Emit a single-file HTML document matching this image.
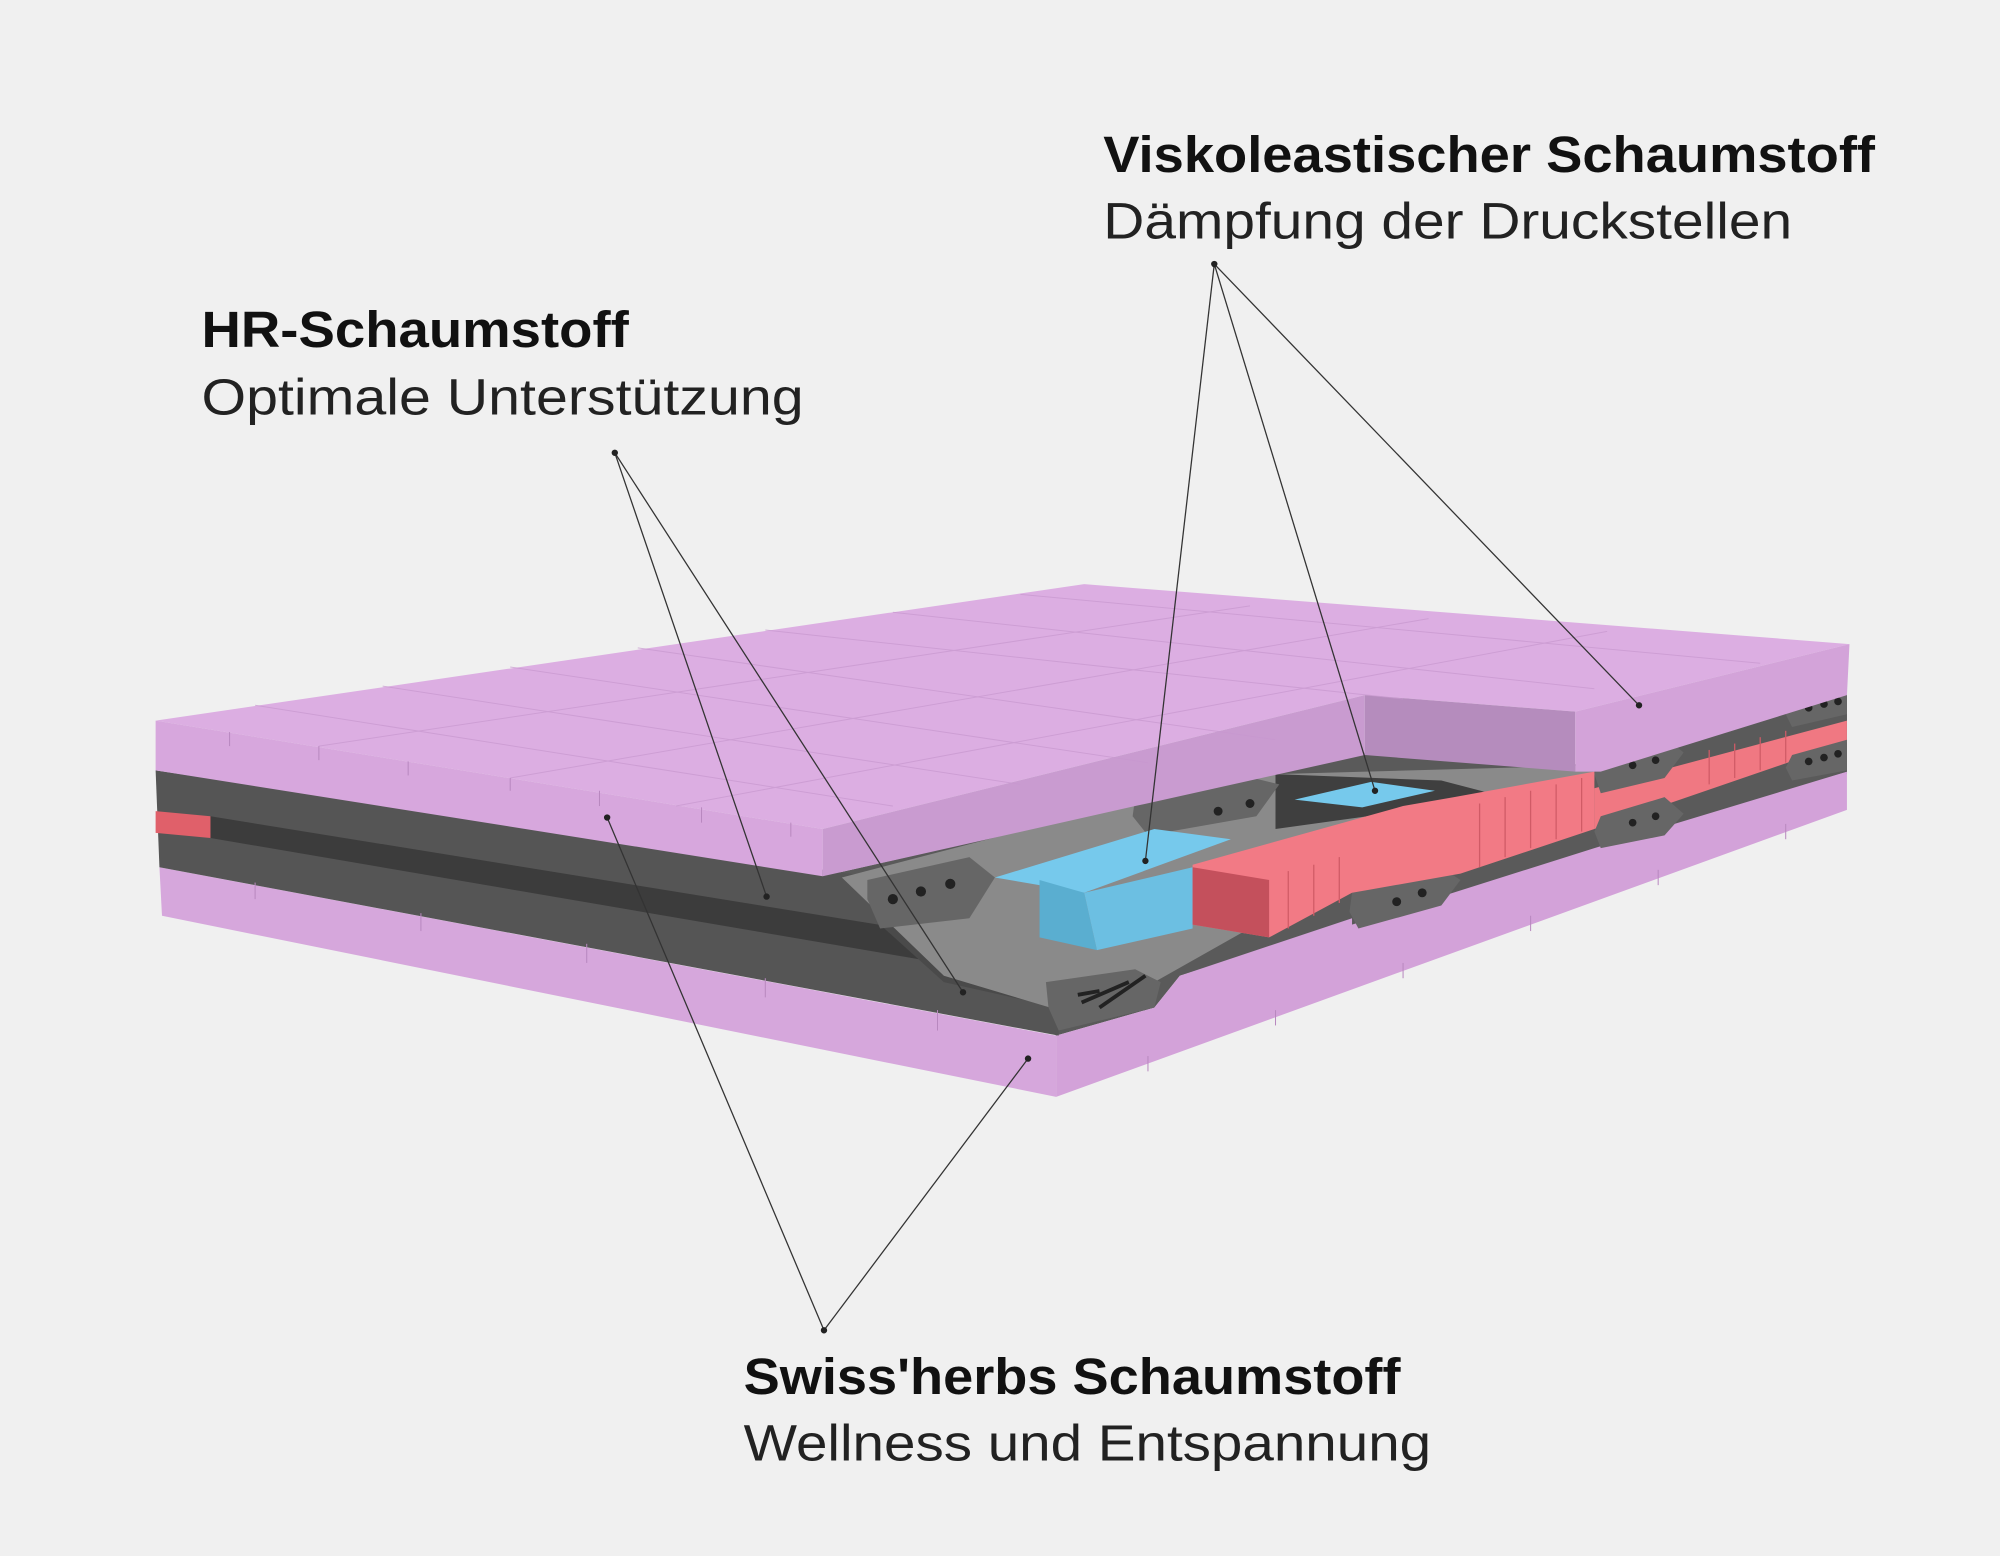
<!DOCTYPE html>
<html><head><meta charset="utf-8"><style>
html,body{margin:0;padding:0;background:#f0f0f0;}
svg{display:block;}
</style></head><body>
<svg width="2000" height="1556" viewBox="0 0 1568 1220" preserveAspectRatio="none" xmlns="http://www.w3.org/2000/svg">
<rect width="1568" height="1220" fill="#f0f0f0"/>
<!-- backing for middle layer -->
<polygon points="645,687 1070,590 1250,600 1448,540 1448,607 1250,662 1060,722 925,765 905,790 828,812 700,700" fill="#5a5a5a"/>
<!-- bottom purple slab -->
<polygon points="125,680 828,812 828,860 127,718" fill="#d6a7dc"/>
<polygon points="828,812 905,790 925,765 1060,720 1250,660 1448,605 1448,635 828,860" fill="#d3a2d9"/>
<!-- dark middle front -->
<polygon points="122,604 700,690 830,780 830,812 125,680" fill="#555555"/>
<polygon points="165,640 720,730 720,752 165,657" fill="#3c3c3c"/>
<polygon points="122,636 165,640 165,657 122,653" fill="#e0606a"/>
<polygon points="690,725 820,735 830,790 740,770" fill="#4a4a4a"/>
<!-- dark band right face -->
<polygon points="1060,690 1250,605 1448,540 1448,605 1250,665 1060,725" fill="#5a5a5a"/>
<polygon points="1250,618 1448,565 1448,582 1250,650" fill="#f07882"/>
<!-- gray exposed plane -->
<polygon points="660,688 890,628 1000,607 1250,600 1250,612 1100,660 905,770 830,792 740,765" fill="#8a8a8a"/>
<polygon points="1000,607 1130,612 1180,625 1000,650" fill="#3f3f3f"/>
<!-- hex blocks -->
<g fill="#666">
<polygon points="680,690 760,672 780,688 760,720 690,728 680,705"/>
<polygon points="890,625 970,607 1003,615 985,640 900,655 888,640"/>
<polygon points="1255,595 1305,578 1320,590 1305,610 1255,622 1250,607"/>
<polygon points="1405,550 1448,538 1448,560 1405,570 1400,560"/>
<polygon points="1060,700 1130,680 1145,690 1130,710 1065,728 1058,715"/>
<polygon points="1255,640 1305,625 1320,638 1305,655 1255,665 1250,652"/>
<polygon points="1405,592 1448,580 1448,604 1405,612 1400,602"/>
<polygon points="820,770 890,760 910,770 905,790 830,808 822,790"/>
</g>
<g fill="#222">
<circle cx="700" cy="705" r="4"/><circle cx="722" cy="699" r="4"/><circle cx="745" cy="693" r="4"/>
<circle cx="955" cy="636" r="3.5"/><circle cx="980" cy="630" r="3.5"/>
<circle cx="1280" cy="600" r="3"/><circle cx="1298" cy="596" r="3"/>
<circle cx="1418" cy="555" r="3"/><circle cx="1430" cy="552" r="3"/><circle cx="1441" cy="550" r="3"/>
<circle cx="1095" cy="707" r="3.5"/><circle cx="1115" cy="700" r="3.5"/>
<circle cx="1280" cy="645" r="3"/><circle cx="1298" cy="640" r="3"/>
<circle cx="1418" cy="597" r="3"/><circle cx="1430" cy="594" r="3"/><circle cx="1441" cy="591" r="3"/>
</g>
<g stroke="#222" stroke-width="3"><line x1="845" y1="780" x2="862" y2="777"/><line x1="848" y1="786" x2="885" y2="770"/><line x1="862" y1="790" x2="898" y2="765"/></g>
<!-- blue block -->
<polygon points="780,688 905,650 965,658 850,700" fill="#76c9ec"/>
<polygon points="815,690 850,700 860,745 815,735" fill="#5aaed0"/>
<polygon points="850,700 935,680 935,728 860,745" fill="#6cbfe2"/>
<polygon points="1015,627 1075,613 1125,620 1068,633" fill="#76c9ec"/>
<!-- red blocks -->
<polygon points="935,678 1100,632 1140,625 1250,605 1250,650 1145,685 1060,700 995,735 935,725" fill="#f27a85"/>
<polygon points="935,680 995,690 995,735 935,725" fill="#c4505c"/>
<g stroke="#d05b66" stroke-width="1">
<line x1="1010" y1="683" x2="1010" y2="728"/><line x1="1030" y1="678" x2="1030" y2="718"/><line x1="1050" y1="672" x2="1050" y2="708"/>
<line x1="1160" y1="630" x2="1160" y2="680"/><line x1="1180" y1="625" x2="1180" y2="672"/><line x1="1200" y1="620" x2="1200" y2="665"/><line x1="1220" y1="615" x2="1220" y2="658"/><line x1="1240" y1="610" x2="1240" y2="652"/>
<line x1="1340" y1="588" x2="1340" y2="615"/><line x1="1360" y1="583" x2="1360" y2="610"/><line x1="1380" y1="578" x2="1380" y2="604"/><line x1="1400" y1="573" x2="1400" y2="598"/>
</g>
<!-- top slab -->
<polygon points="122,565 850,458 1450,505 1235,558 1070,545 645,650" fill="#dcaee2"/>
<polygon points="122,565 645,650 645,687 122,604" fill="#d7a7dd"/>
<polygon points="645,650 1070,545 1070,592 890,632 645,687" fill="#c99bd0"/>
<polygon points="1070,545 1235,558 1235,605 1070,592" fill="#b58cbd"/>
<polygon points="1235,558 1450,505 1448,545 1255,605 1235,605" fill="#d3a3d9"/>
<!-- subtle grid -->
<g stroke="#c898cf" stroke-width="0.8" opacity="0.7">
<line x1="200" y1="553" x2="700" y2="632"/><line x1="300" y1="538" x2="800" y2="615"/><line x1="400" y1="523" x2="900" y2="598"/><line x1="500" y1="508" x2="1000" y2="580"/><line x1="600" y1="494" x2="1100" y2="548"/><line x1="700" y1="480" x2="1250" y2="540"/><line x1="800" y1="466" x2="1380" y2="520"/>
<line x1="250" y1="585" x2="980" y2="475"/><line x1="400" y1="610" x2="1120" y2="485"/><line x1="530" y1="632" x2="1260" y2="495"/>
</g>
<g stroke="#b888bf" stroke-width="0.8">
<line x1="180" y1="574" x2="180" y2="585"/><line x1="250" y1="585" x2="250" y2="596"/><line x1="320" y1="597" x2="320" y2="608"/><line x1="400" y1="610" x2="400" y2="620"/><line x1="470" y1="620" x2="470" y2="632"/><line x1="550" y1="633" x2="550" y2="645"/><line x1="620" y1="645" x2="620" y2="656"/>
<line x1="200" y1="692" x2="200" y2="705"/><line x1="330" y1="716" x2="330" y2="730"/><line x1="460" y1="740" x2="460" y2="755"/><line x1="600" y1="767" x2="600" y2="782"/><line x1="735" y1="792" x2="735" y2="808"/>
<line x1="900" y1="828" x2="900" y2="840"/><line x1="1000" y1="792" x2="1000" y2="804"/><line x1="1100" y1="755" x2="1100" y2="767"/><line x1="1200" y1="718" x2="1200" y2="730"/><line x1="1300" y1="682" x2="1300" y2="694"/><line x1="1400" y1="646" x2="1400" y2="658"/>
</g>
<!-- leader lines -->
<g stroke="#333" stroke-width="1" fill="none">
<line x1="952" y1="207" x2="898" y2="675"/><line x1="952" y1="207" x2="1078" y2="620"/><line x1="952" y1="207" x2="1285" y2="553"/>
<line x1="482" y1="355" x2="601" y2="703"/><line x1="482" y1="355" x2="755" y2="778"/>
<line x1="646" y1="1043" x2="476" y2="641"/><line x1="646" y1="1043" x2="806" y2="830"/>
</g>
<g fill="#222">
<circle cx="952" cy="207" r="2.5"/><circle cx="898" cy="675" r="2.5"/><circle cx="1078" cy="620" r="2.5"/><circle cx="1285" cy="553" r="2.5"/>
<circle cx="482" cy="355" r="2.5"/><circle cx="601" cy="703" r="2.5"/><circle cx="755" cy="778" r="2.5"/>
<circle cx="646" cy="1043" r="2.5"/><circle cx="476" cy="641" r="2.5"/><circle cx="806" cy="830" r="2.5"/>
</g>
<!-- text -->
<g font-family="Liberation Sans, sans-serif" fill="#111">
<text x="865" y="135" font-size="40" font-weight="bold" textLength="605" lengthAdjust="spacingAndGlyphs">Viskoleastischer Schaumstoff</text>
<text x="865" y="187" font-size="40" fill="#222" textLength="540" lengthAdjust="spacingAndGlyphs">Dämpfung der Druckstellen</text>
<text x="158" y="272" font-size="40" font-weight="bold" textLength="335" lengthAdjust="spacingAndGlyphs">HR-Schaumstoff</text>
<text x="158" y="325" font-size="40" fill="#222" textLength="472" lengthAdjust="spacingAndGlyphs">Optimale Unterstützung</text>
<text x="583" y="1093" font-size="40" font-weight="bold" textLength="515" lengthAdjust="spacingAndGlyphs">Swiss'herbs Schaumstoff</text>
<text x="583" y="1145" font-size="40" fill="#222" textLength="539" lengthAdjust="spacingAndGlyphs">Wellness und Entspannung</text>
</g>
</svg>
</body></html>
